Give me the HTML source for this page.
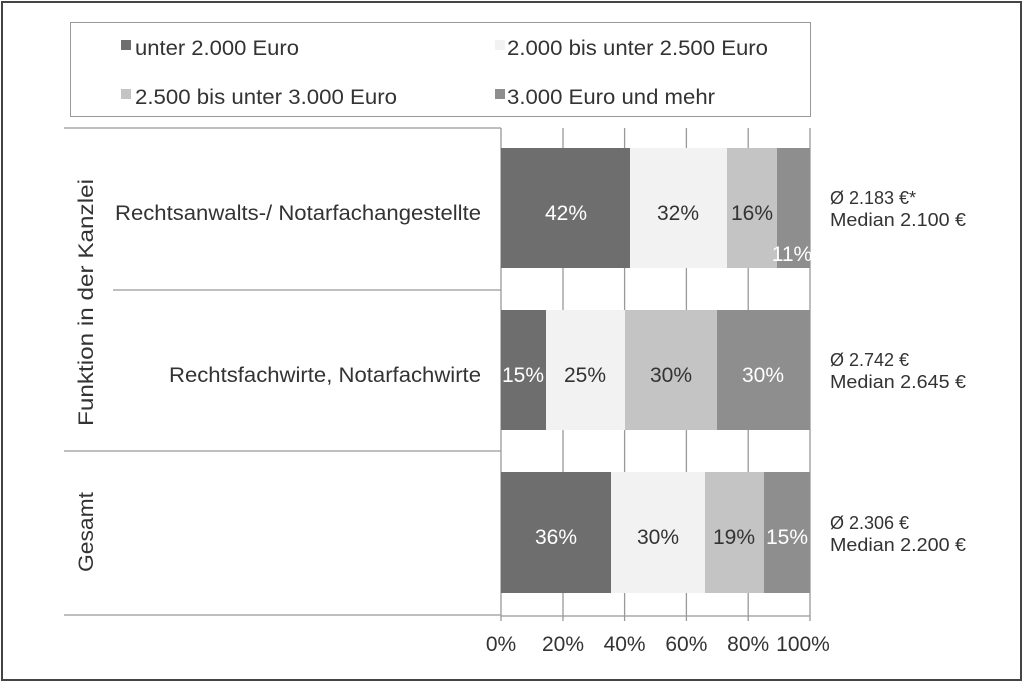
<!DOCTYPE html><html><head><style>body{margin:0;background:#fff}svg{display:block}text{font-family:"Liberation Sans",sans-serif;fill:#333}</style></head><body>
<svg width="1024" height="683" viewBox="0 0 1024 683">
<rect x="2" y="2" width="1019" height="678" fill="#fff" stroke="#444" stroke-width="2"/>
<rect x="70.5" y="22.5" width="740" height="94" fill="none" stroke="#999"/>
<g font-size="21">
<rect x="121" y="40" width="10" height="10" fill="#6e6e6e"/><text x="135" y="55" textLength="164" lengthAdjust="spacingAndGlyphs">unter 2.000 Euro</text>
<rect x="495" y="40" width="10" height="10" fill="#f2f2f2"/><text x="507" y="55" textLength="261" lengthAdjust="spacingAndGlyphs">2.000 bis unter 2.500 Euro</text>
<rect x="121" y="89" width="10" height="10" fill="#c4c4c4"/><text x="135" y="104" textLength="262" lengthAdjust="spacingAndGlyphs">2.500 bis unter 3.000 Euro</text>
<rect x="495" y="89" width="10" height="10" fill="#8e8e8e"/><text x="507" y="104" textLength="208" lengthAdjust="spacingAndGlyphs">3.000 Euro und mehr</text>
</g>
<g stroke="#999" stroke-width="1.3">
<line x1="64" y1="128" x2="501" y2="128"/><line x1="113" y1="290" x2="501" y2="290"/>
<line x1="64" y1="451" x2="501" y2="451"/><line x1="64" y1="615" x2="501" y2="615"/>
<line x1="501" y1="128" x2="501" y2="621"/>
<line x1="501" y1="616" x2="810" y2="616"/>
<line x1="563" y1="128" x2="563" y2="621"/><line x1="624.6" y1="128" x2="624.6" y2="621"/>
<line x1="686.4" y1="128" x2="686.4" y2="621"/><line x1="748.2" y1="128" x2="748.2" y2="621"/>
<line x1="810" y1="128" x2="810" y2="621"/>
</g>
<rect x="501" y="148" width="129" height="120" fill="#6e6e6e"/><rect x="630" y="148" width="97" height="120" fill="#f2f2f2"/><rect x="727" y="148" width="50" height="120" fill="#c4c4c4"/><rect x="777" y="148" width="33" height="120" fill="#8e8e8e"/>
<rect x="501" y="310" width="45" height="120" fill="#6e6e6e"/><rect x="546" y="310" width="79" height="120" fill="#f2f2f2"/><rect x="625" y="310" width="92" height="120" fill="#c4c4c4"/><rect x="717" y="310" width="93" height="120" fill="#8e8e8e"/>
<rect x="501" y="472" width="110" height="121" fill="#6e6e6e"/><rect x="611" y="472" width="94" height="121" fill="#f2f2f2"/><rect x="705" y="472" width="59" height="121" fill="#c4c4c4"/><rect x="764" y="472" width="46" height="121" fill="#8e8e8e"/>
<g font-size="21" text-anchor="middle">
<text x="566" y="220" style="fill:#fff">42%</text><text x="678" y="220">32%</text><text x="752" y="220">16%</text><text x="792" y="261" style="fill:#fff">11%</text>
<text x="523" y="382" style="fill:#fff">15%</text><text x="585" y="382">25%</text><text x="671" y="382">30%</text><text x="763" y="382" style="fill:#fff">30%</text>
<text x="556" y="544" style="fill:#fff">36%</text><text x="658" y="544">30%</text><text x="734" y="544">19%</text><text x="787" y="544" style="fill:#fff">15%</text>
<text x="501" y="651">0%</text><text x="563" y="651">20%</text><text x="624.6" y="651">40%</text><text x="686.4" y="651">60%</text><text x="748.2" y="651">80%</text><text x="803" y="651">100%</text>
</g>
<g font-size="21"><text x="115" y="220" textLength="366" lengthAdjust="spacingAndGlyphs">Rechtsanwalts-/ Notarfachangestellte</text><text x="169" y="382" textLength="312" lengthAdjust="spacingAndGlyphs">Rechtsfachwirte, Notarfachwirte</text></g>
<text font-size="21" transform="translate(93,426) rotate(-90)" textLength="247" lengthAdjust="spacingAndGlyphs">Funktion in der Kanzlei</text>
<text font-size="21" transform="translate(93,572) rotate(-90)" textLength="80" lengthAdjust="spacingAndGlyphs">Gesamt</text>
<g font-size="18"><text x="830" y="204">Ø 2.183 €*</text><text x="830" y="226" textLength="136" lengthAdjust="spacingAndGlyphs">Median 2.100 €</text>
<text x="830" y="366">Ø 2.742 €</text><text x="830" y="388" textLength="136" lengthAdjust="spacingAndGlyphs">Median 2.645 €</text>
<text x="830" y="529">Ø 2.306 €</text><text x="830" y="551" textLength="136" lengthAdjust="spacingAndGlyphs">Median 2.200 €</text></g>
</svg></body></html>
